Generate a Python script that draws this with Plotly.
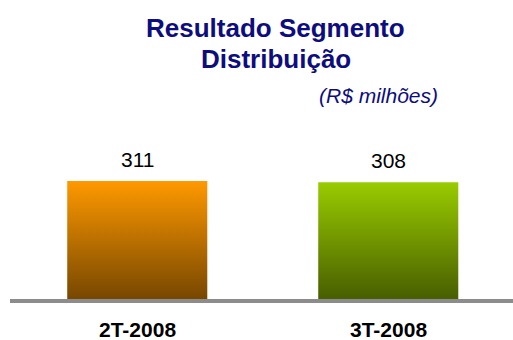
import plotly.graph_objects as go

# Resultado do segmento de distribuição, R$ milhões
periods = ["2T-2008", "3T-2008"]
values = [311, 308]
value_labels = ["311", "308"]
top_colors = ["#FF9900", "#99CC00"]
bottom_colors = ["#774700", "#485E00"]

BAR_WIDTH = 0.558
W, H = 513, 340
M_L, M_R, M_T, M_B = 10, 0, 120, 41
plot_w = W - M_L - M_R
plot_h = H - M_T - M_B
FONT = "Liberation Sans, Arial"

fig = go.Figure()

# gradient-filled bars, outline derived from each value
for i, (v, top, bot) in enumerate(zip(values, top_colors, bottom_colors)):
    x0, x1 = i - BAR_WIDTH / 2, i + BAR_WIDTH / 2
    fig.add_trace(go.Scatter(
        x=[x0, x1, x1, x0, x0],
        y=[0, 0, v, v, 0],
        mode="lines",
        line=dict(width=0, color=top),
        fill="toself",
        fillgradient=dict(type="vertical", colorscale=[[0, bot], [1, top]]),
        hoverinfo="skip",
        showlegend=False,
    ))
    fig.add_annotation(
        x=i, y=v, xref="x", yref="y", text=value_labels[i],
        showarrow=False, yanchor="bottom", yshift=8,
        font=dict(family=FONT, size=21, color="#000000"),
    )
    fig.add_annotation(
        x=i, y=0, xref="x", yref="paper", text=f"<b>{periods[i]}</b>",
        showarrow=False, yanchor="middle", yshift=-30,
        height=18, borderpad=0,
        font=dict(family=FONT, size=21, color="#000000"),
    )

# baseline
fig.add_shape(
    type="line", xref="paper", x0=0, x1=1,
    yref="paper", y0=-2 / plot_h, y1=-2 / plot_h,
    line=dict(color="#8C8C8C", width=4), layer="above",
)

title_font = dict(family=FONT, size=26, color="#0D0D80")
fig.add_annotation(
    x=(275 - M_L) / plot_w, y=(H - M_B - 28) / plot_h, xref="paper", yref="paper",
    text="<b>Resultado Segmento</b>", showarrow=False, font=title_font,
    xanchor="center", yanchor="middle",
)
fig.add_annotation(
    x=(276 - M_L) / plot_w, y=(H - M_B - 59) / plot_h, xref="paper", yref="paper",
    text="<b>Distribuição</b>", showarrow=False, font=title_font,
    xanchor="center", yanchor="middle",
)
fig.add_annotation(
    x=(378 - M_L) / plot_w, y=(H - M_B - 96) / plot_h, xref="paper", yref="paper",
    text="<i>(R$ milhões)</i>", showarrow=False,
    font=dict(family=FONT, size=21, color="#0D0D80"),
    xanchor="center", yanchor="middle",
)

fig.update_layout(
    width=W, height=H,
    margin=dict(l=M_L, r=M_R, t=M_T, b=M_B, pad=0),
    paper_bgcolor="white", plot_bgcolor="white",
    xaxis=dict(range=[-0.507, -0.507 + plot_w / 251], visible=False, fixedrange=True),
    yaxis=dict(range=[0, plot_h * 311 / 118], visible=False, fixedrange=True),
)

fig.write_html("out.html")
